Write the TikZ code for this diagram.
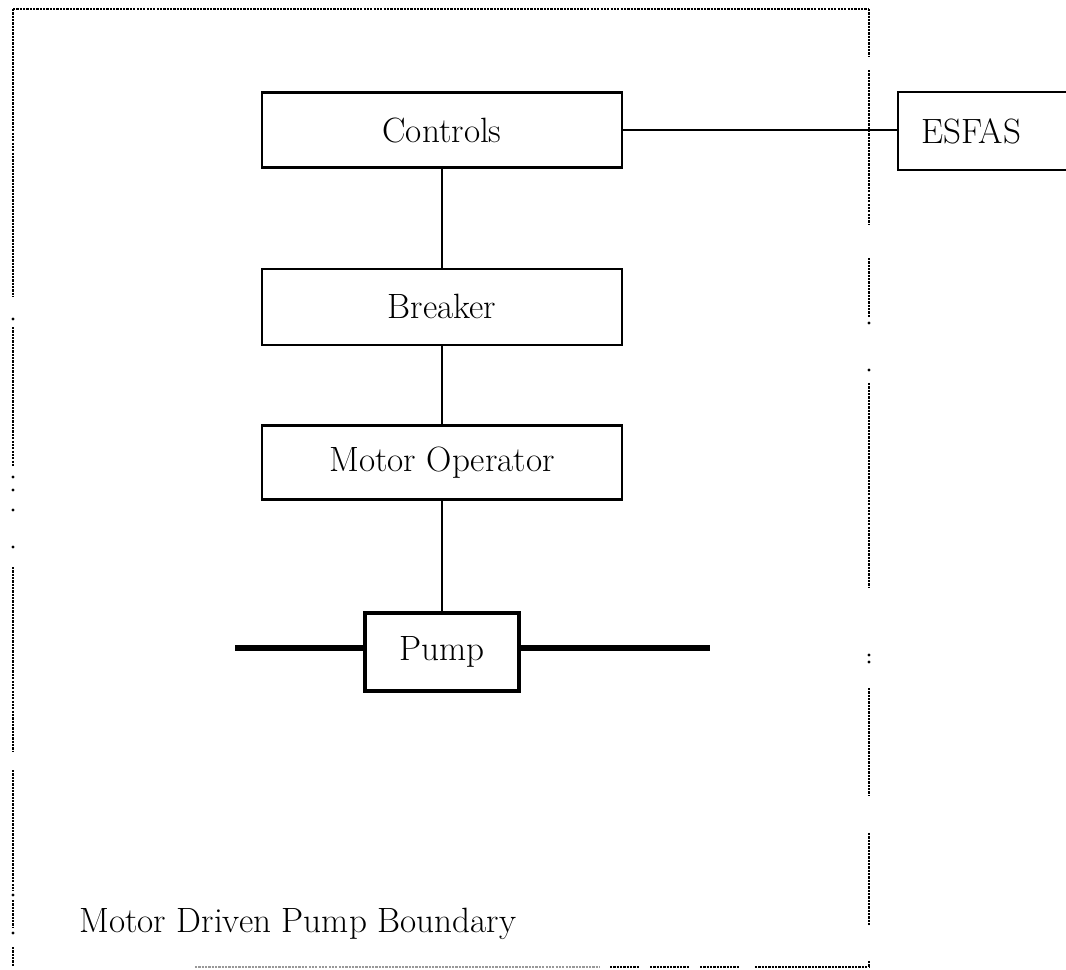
\documentclass[tikz,border=0pt]{standalone}
\usetikzlibrary{positioning}
\tikzset{
  block/.style = {
    rectangle,
    draw=black,
    line width=1.4pt,
    minimum width=7.2cm,
    minimum height=1.5cm,
    font=\fontsize{20}{24}\selectfont
  },
  pump_block/.style = {
    block,
    line width=2.8pt,
    minimum width=3.08cm,
    minimum height=1.56cm
  },
  link/.style = {
    line width=1.1pt,
    black
  },
  pipe/.style = {
    line width=2.9pt,
    black
  },
  boundary/.style = {
    line width=1.6pt,
    dash pattern=on 1.3pt off 0.6pt
  }
}

\begin{document}
\begin{tikzpicture}[x=0.02cm, y=-0.02cm]
\useasboundingbox (0,0) rectangle (1066,970);

% Blocks
\node[block] (controls) at (442,130) {Controls};
\node[block, below=1.98cm of controls, minimum height=1.52cm] (breaker) {Breaker};
\node[block, below=1.56cm of breaker, minimum height=1.48cm] (motor_op) {Motor Operator};
\node[pump_block, below=2.2cm of motor_op] (pump) {Pump};

% ESFAS (runs off the right edge)
\node[block, anchor=west, minimum width=0cm, minimum height=1.56cm,
      text width=3.0cm, inner xsep=0.46cm, align=left] (esfas) at (897,131) {ESFAS};

% Pipe ends
\coordinate (pipe_in) at (235,648);
\coordinate (pipe_out) at (710,648);

% Connections
\draw[link] (controls.east) -- (controls.east -| esfas.west);
\draw[link] (controls) -- (breaker);
\draw[link] (breaker) -- (motor_op);
\draw[link] (motor_op) -- (pump);
\draw[pipe] (pipe_in) -- (pipe_in -| pump.west);
\draw[pipe] (pipe_out -| pump.east) -- (pipe_out);

% Boundary (dotted, broken in places)
\draw[boundary] (13,9) -- (869,9);
\foreach \ya/\yb in {9/297, 327/467, 567/752, 770/891, 900/927, 947/967}
  \draw[boundary] (13,\ya) -- (13,\yb);
\foreach \y in {319, 477, 490, 510, 547, 895, 933}
  \fill (13,\y) circle (0.9pt);
\foreach \ya/\yb in {9/57, 70/225, 258/317, 383/588, 688/795, 833/926, 961/967}
  \draw[boundary] (869,\ya) -- (869,\yb);
\foreach \y in {323, 370, 655, 662}
  \fill (869,\y) circle (0.9pt);
\draw[boundary, black!40] (195,967) -- (600,967);
\foreach \xa/\xb in {610/640, 650/690, 700/740, 755/869}
  \draw[boundary] (\xa,967) -- (\xb,967);

\node[anchor=base west, font=\fontsize{20}{24}\selectfont] (boundary_label) at (73,932) {Motor Driven Pump Boundary};

\end{tikzpicture}
\end{document}
